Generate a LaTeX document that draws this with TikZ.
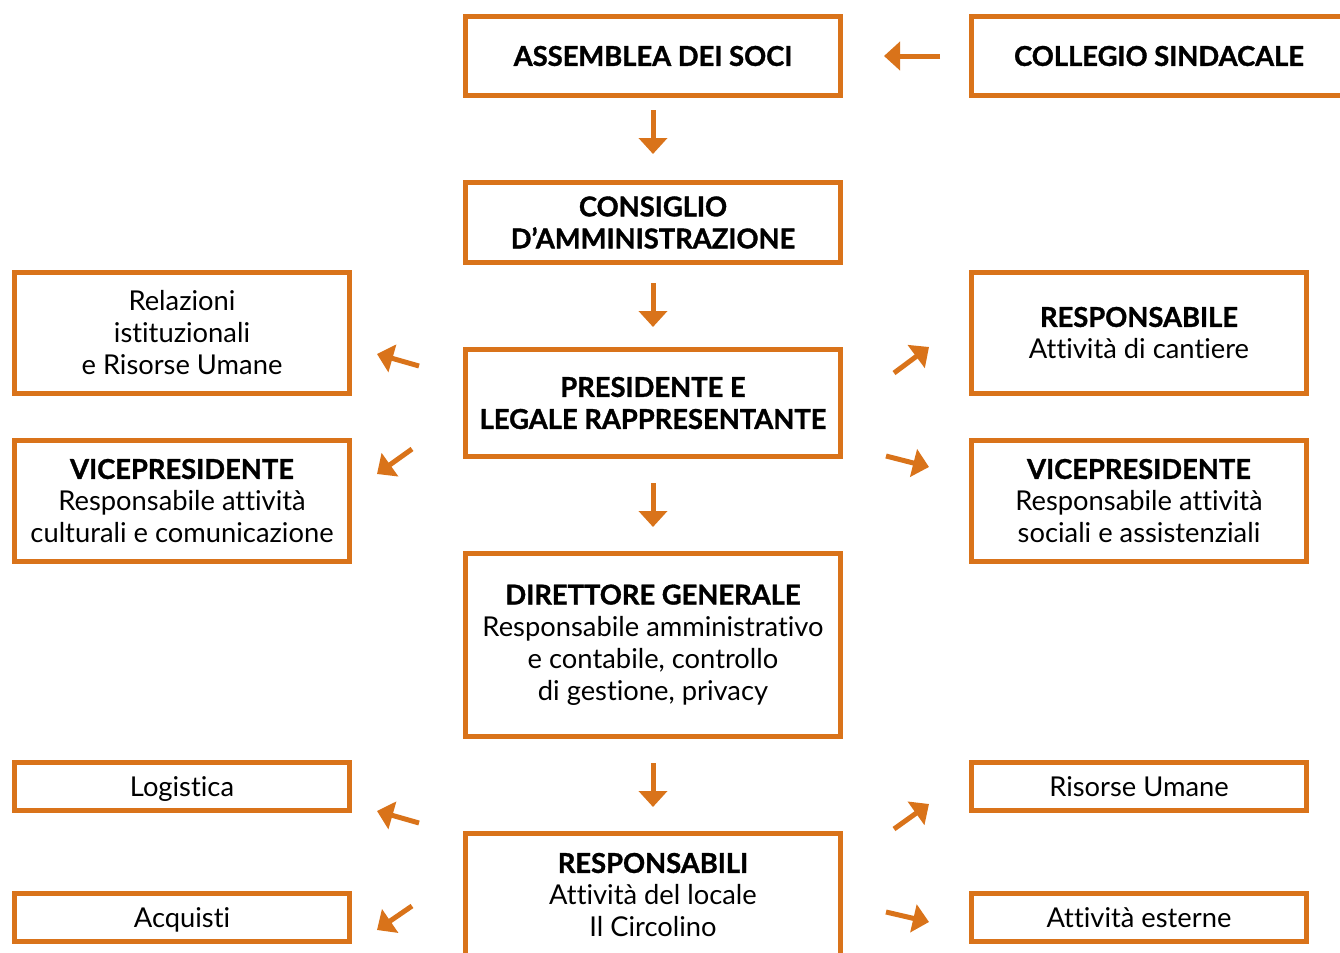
\documentclass[tikz,border=0pt]{standalone}
\usepackage{fontspec}
\setmainfont{Lato}[Ligatures=NoCommon,BoldFeatures={FakeBold=1.2}]
\usetikzlibrary{arrows.meta}
\definecolor{org}{RGB}{217,115,26}
\begin{document}
\begin{tikzpicture}[x=0.75pt,y=-0.75pt,
 box/.style={draw=org,line width=3.75pt,inner sep=0pt,align=center,font=\fontsize{20.5}{24}\selectfont,text=black},
 mid/.style={box,minimum width=281.25pt},
 side/.style={box,minimum width=251.25pt},
 arr/.style={draw=org,line width=3.75pt,-{Triangle[length=12pt,width=21pt]}}]
\useasboundingbox (0,0) rectangle (1340,953);
% central column
\node[mid,minimum height=59.25pt] (ass) at (653,56) {\bfseries ASSEMBLEA DEI SOCI};
\node[mid,minimum height=59.25pt] (col) at (1159,56) {\bfseries COLLEGIO SINDACALE};
\node[mid,minimum height=60pt] (cda) at (653,222.5) {\bfseries CONSIGLIO\\\bfseries D’AMMINISTRAZIONE};
\node[mid,minimum height=80.25pt] (pres) at (653,403) {\bfseries PRESIDENTE E\\\bfseries LEGALE RAPPRESENTANTE};
\node[mid,minimum height=137.25pt] (dir) at (653,645) {\bfseries DIRETTORE GENERALE\\Responsabile amministrativo\\e contabile, controllo\\di gestione, privacy};
\node[mid,minimum height=92.25pt] (resp) at (653,895) {\bfseries RESPONSABILI\\Attività del locale\\Il Circolino};
% side boxes
\node[side,minimum height=90.75pt] (rel) at (182,333) {Relazioni\\istituzionali\\e Risorse Umane};
\node[side,minimum height=90.75pt] (vcl) at (182,501) {\bfseries VICEPRESIDENTE\\Responsabile attività\\culturali e comunicazione};
\node[side,minimum height=90.75pt] (cant) at (1139,333) {\bfseries RESPONSABILE\\Attività di cantiere};
\node[side,minimum height=90.75pt] (vcr) at (1139,501) {\bfseries VICEPRESIDENTE\\Responsabile attività\\sociali e assistenziali};
\node[side,minimum height=36pt,text height=15pt,text depth=0pt] (log) at (182,786.5) {Logistica};
\node[side,minimum height=36pt,text height=15pt,text depth=0pt] (acq) at (182,917.5) {Acquisti};
\node[side,minimum height=36pt,text height=15pt,text depth=0pt] (ru) at (1139,786.5) {Risorse Umane};
\node[side,minimum height=36pt,text height=15pt,text depth=0pt] (est) at (1139,917.5) {Attività esterne};
% arrow end points
\coordinate (c1s) at (940,56);  \coordinate (c1e) at (884,56);
\coordinate (v1s) at (653,110); \coordinate (v1e) at (653,154);
\coordinate (v2s) at (653,283); \coordinate (v2e) at (653,327);
\coordinate (v3s) at (653,483); \coordinate (v3e) at (653,527);
\coordinate (v4s) at (653,763); \coordinate (v4e) at (653,807);
\coordinate (l1s) at (419,366); \coordinate (l1e) at (377,354);
\coordinate (l2s) at (412,449); \coordinate (l2e) at (377,474);
\coordinate (r1s) at (894,373); \coordinate (r1e) at (929,347);
\coordinate (r2s) at (886,456); \coordinate (r2e) at (929,467);
\coordinate (l3s) at (419,823); \coordinate (l3e) at (377,811);
\coordinate (l4s) at (412,906); \coordinate (l4e) at (377,930);
\coordinate (r3s) at (894,829); \coordinate (r3e) at (929,804);
\coordinate (r4s) at (886,912); \coordinate (r4e) at (929,922);
\foreach \a in {c1,v1,v2,v3,v4,l1,l2,r1,r2,l3,l4,r3,r4}
  \draw[arr] (\a s) -- (\a e);
\end{tikzpicture}
\end{document}
